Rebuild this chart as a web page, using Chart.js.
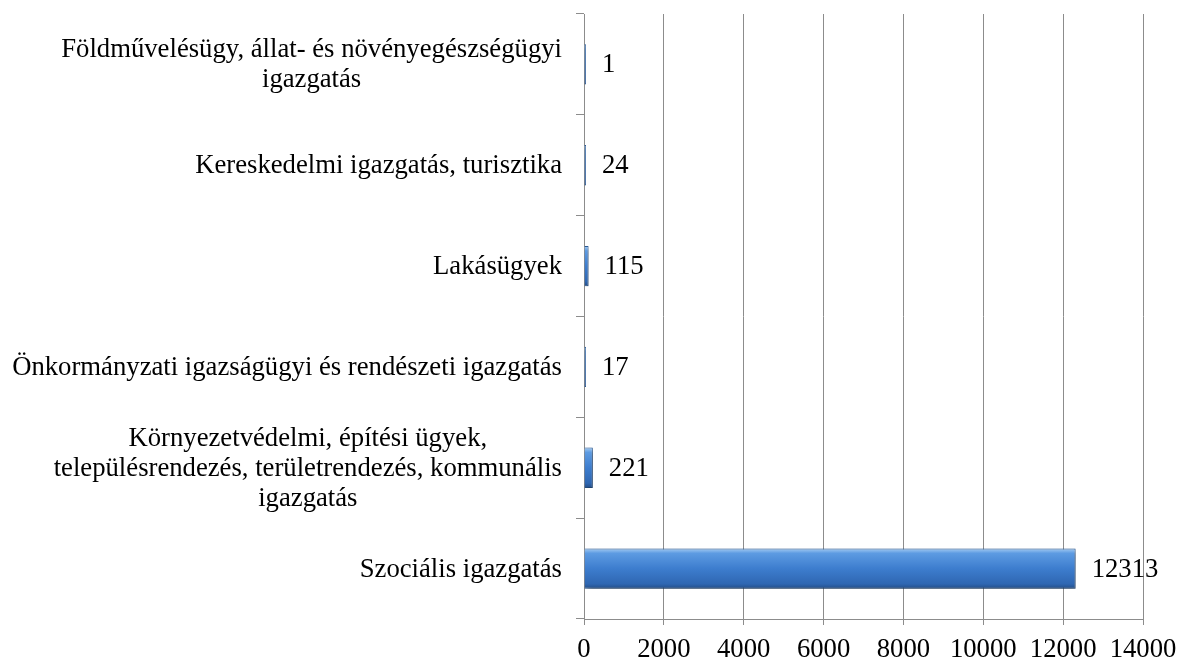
<!DOCTYPE html>
<html>
<head>
<meta charset="utf-8">
<script src="https://cdn.jsdelivr.net/npm/chart.js@4/dist/chart.umd.min.js"></script>
<style>
  html, body { margin: 0; padding: 0; background: #fff; }
  #wrap { width: 1180px; height: 662px; }
</style>
</head>
<body>
<div id="wrap"><canvas id="chart" width="1180" height="662"></canvas></div>
<script>
// kategóriák fentről lefelé
const kategoriak = [
  ['Földművelésügy, állat- és növényegészségügyi', 'igazgatás'],
  ['Kereskedelmi igazgatás, turisztika'],
  ['Lakásügyek'],
  ['Önkormányzati igazságügyi és rendészeti igazgatás'],
  ['Környezetvédelmi, építési ügyek,', 'településrendezés, területrendezés, kommunális', 'igazgatás'],
  ['Szociális igazgatás']
];
const ugyekSzama = [1, 24, 115, 17, 221, 12313];
const xTicks = [0, 2000, 4000, 6000, 8000, 10000, 12000, 14000];

const FONT = "'Liberation Serif', 'Times New Roman', serif";
const FSIZE = 26.7;
const GRID = '#8c8c8c';

// bar gradient, built per bar from the scale
function barGradient(context) {
  const chart = context.chart;
  const y = chart.scales.y;
  if (!y || context.dataIndex === undefined) return '#3d7bc8';
  const center = y.getPixelForValue(context.dataIndex);
  const step = Math.abs(y.getPixelForValue(1) - y.getPixelForValue(0));
  if (!isFinite(center) || !isFinite(step) || step === 0) return '#3d7bc8';
  const h = step * 0.4 / 2;
  const g = chart.ctx.createLinearGradient(0, center - h, 0, center + h);
  g.addColorStop(0, '#a6ccf2');
  g.addColorStop(0.12, '#5d9be2');
  g.addColorStop(0.5, '#3d7dce');
  g.addColorStop(0.88, '#2f67b2');
  g.addColorStop(1, '#234d86');
  return g;
}

// shadow under the bars
const shadowPlugin = {
  id: 'shadow',
  beforeDatasetsDraw(chart) {
    const ctx = chart.ctx;
    ctx.save();
    ctx.shadowColor = 'rgba(0,0,0,0.4)';
    ctx.shadowBlur = 5;
    ctx.shadowOffsetX = 2;
    ctx.shadowOffsetY = 3;
  },
  afterDatasetsDraw(chart) {
    chart.ctx.restore();
  }
};

// value labels right of the bars
const valueLabels = {
  id: 'valueLabels',
  afterDatasetsDraw(chart) {
    const ctx = chart.ctx;
    const meta = chart.getDatasetMeta(0);
    ctx.save();
    ctx.font = FSIZE + 'px ' + FONT;
    ctx.fillStyle = '#000';
    ctx.textAlign = 'left';
    ctx.textBaseline = 'middle';
    meta.data.forEach((bar, i) => {
      ctx.fillText(String(ugyekSzama[i]), bar.x + 16, bar.y + 1);
    });
    ctx.restore();
  }
};

// category labels: block right aligned, lines centred (like Excel)
const categoryLabels = {
  id: 'categoryLabels',
  afterDraw(chart) {
    const ctx = chart.ctx;
    const y = chart.scales.y;
    const right = chart.chartArea.left - 22;
    const lh = 30;
    ctx.save();
    ctx.font = FSIZE + 'px ' + FONT;
    ctx.fillStyle = '#000';
    ctx.textAlign = 'center';
    ctx.textBaseline = 'middle';
    kategoriak.forEach((lines, i) => {
      const w = Math.max(...lines.map(l => ctx.measureText(l).width));
      const cx = right - w / 2;
      const cy = y.getPixelForValue(i);
      const top = cy - (lines.length - 1) * lh / 2;
      lines.forEach((l, j) => ctx.fillText(l, cx, top + j * lh + 1));
    });
    ctx.restore();
  }
};

const ctx = document.getElementById('chart').getContext('2d');
new Chart(ctx, {
  type: 'bar',
  data: {
    labels: kategoriak,
    datasets: [{
      data: ugyekSzama,
      backgroundColor: barGradient,
      borderColor: '#2a5a96',
      borderWidth: 1,
      borderSkipped: 'start',
      minBarLength: 2,
      barPercentage: 0.4,
      categoryPercentage: 1
    }]
  },
  options: {
    indexAxis: 'y',
    responsive: false,
    animation: false,
    layout: { padding: { top: 14, right: 0, left: 0, bottom: 0 } },
    plugins: {
      legend: { display: false },
      tooltip: { enabled: false }
    },
    scales: {
      x: {
        min: 0,
        max: 14000,
        afterBuildTicks: (scale) => { scale.ticks = xTicks.map(v => ({ value: v })); },
        afterFit: (scale) => { scale.height = 43; scale.paddingRight = 37; },
        ticks: {
          font: { family: FONT, size: FSIZE },
          color: '#000',
          padding: 9,
          maxRotation: 0,
          callback: (v) => String(v)
        },
        grid: { color: GRID, tickLength: 6, lineWidth: 1 },
        border: { color: GRID, width: 1 }
      },
      y: {
        type: 'category',
        offset: true,
        afterFit: (scale) => { scale.width = 584; },
        ticks: { display: false },
        grid: {
          offset: true,
          drawOnChartArea: false,
          color: GRID,
          tickLength: 8
        },
        border: { color: GRID, width: 1 }
      }
    }
  },
  plugins: [shadowPlugin, valueLabels, categoryLabels]
});
</script>
</body>
</html>
